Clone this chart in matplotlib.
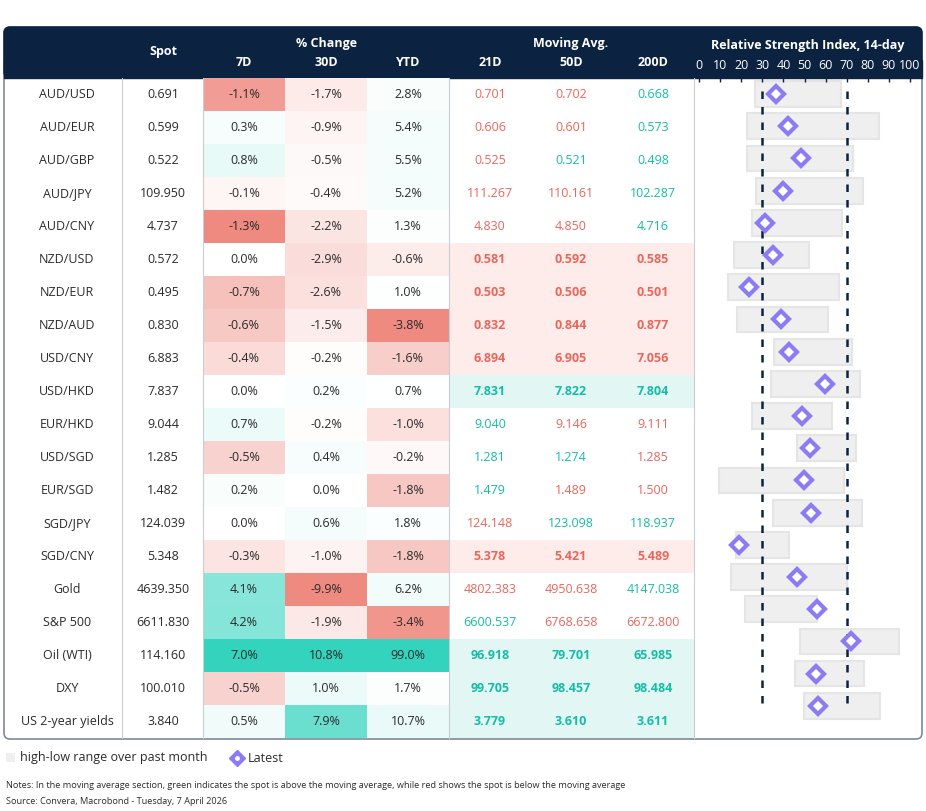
import matplotlib
matplotlib.use("Agg")
import matplotlib.pyplot as plt
from matplotlib.patches import Rectangle, FancyBboxPatch
import numpy as np

plt.rcParams['font.family'] = ['Open Sans', 'DejaVu Sans']

pairs = ["AUD/USD","AUD/EUR","AUD/GBP","AUD/JPY","AUD/CNY","NZD/USD","NZD/EUR","NZD/AUD","USD/CNY","USD/HKD",
         "EUR/HKD","USD/SGD","EUR/SGD","SGD/JPY","SGD/CNY","Gold","S&P 500","Oil (WTI)","DXY","US 2-year yields"]
spot = ["0.691","0.599","0.522","109.950","4.737","0.572","0.495","0.830","6.883","7.837",
        "9.044","1.285","1.482","124.039","5.348","4639.350","6611.830","114.160","100.010","3.840"]
chg7 = [-1.1,0.3,0.8,-0.1,-1.3,0.0,-0.7,-0.6,-0.4,0.0,0.7,-0.5,0.2,0.0,-0.3,4.1,4.2,7.0,-0.5,0.5]
chg30 = [-1.7,-0.9,-0.5,-0.4,-2.2,-2.9,-2.6,-1.5,-0.2,0.2,-0.2,0.4,0.0,0.6,-1.0,-9.9,-1.9,10.8,1.0,7.9]
chgytd = [2.8,5.4,5.5,5.2,1.3,-0.6,1.0,-3.8,-1.6,0.7,-1.0,-0.2,-1.8,1.8,-1.8,6.2,-3.4,99.0,1.7,10.7]
ma21 = ["0.701","0.606","0.525","111.267","4.830","0.581","0.503","0.832","6.894","7.831",
        "9.040","1.281","1.479","124.148","5.378","4802.383","6600.537","96.918","99.705","3.779"]
ma50 = ["0.702","0.601","0.521","110.161","4.850","0.592","0.506","0.844","6.905","7.822",
        "9.146","1.274","1.489","123.098","5.421","4950.638","6768.658","79.701","98.457","3.610"]
ma200 = ["0.668","0.573","0.498","102.287","4.716","0.585","0.501","0.877","7.056","7.804",
         "9.111","1.285","1.500","118.937","5.489","4147.038","6672.800","65.985","98.484","3.611"]
rsi_low = [26.7,22.9,22.9,27.0,25.1,16.8,13.9,18.0,35.7,34.0,25.0,46.3,9.5,35.1,17.5,15.2,21.8,47.9,45.5,49.8]
rsi_high = [67.2,85.2,72.9,77.6,67.7,52.0,66.2,61.0,72.4,76.4,62.9,74.5,68.5,77.2,42.5,70.0,55.8,95.0,78.1,85.8]
rsi_latest = [36.5,42.0,48.4,39.7,31.5,35.1,23.7,38.9,42.8,59.8,48.9,52.8,49.6,53.3,19.1,46.6,55.8,71.9,55.3,56.4]

W, H = 926, 811
fig = plt.figure(figsize=(W/100, H/100), dpi=100)
ax = fig.add_axes([0, 0, 1, 1])
ax.set_xlim(0, W); ax.set_ylim(H, 0); ax.axis('off')

navy = "#0b2240"
RED = np.array([238, 138, 128]) / 255
TEAL = np.array([52, 211, 190]) / 255
red_txt = "#e8675c"; grn_txt = "#16bca6"
txt = "#2b2b2b"
top, rh = 78, 33
n = len(pairs)
bottom = top + rh * n
fs = 9

# outer frame
ax.add_patch(FancyBboxPatch((4, 27), 918, bottom - 27 + 1, boxstyle="round,pad=0,rounding_size=6",
                            fc="white", ec="#7b8b9a", lw=1.2, zorder=0))
ax.add_patch(FancyBboxPatch((4, 27), 918, 51, boxstyle="round,pad=0,rounding_size=6",
                            fc=navy, ec=navy, lw=1, zorder=1))
ax.add_patch(Rectangle((4, 60), 918, 18, fc=navy, ec=navy, zorder=1))

cx = {"pair": 67, "spot": 163, "7": 244, "30": 326, "ytd": 408, "21": 490, "50": 571, "200": 653}
# header text
hk = dict(color="white", fontsize=fs, fontweight="bold", ha="center", va="center", zorder=3)
ax.text(cx["spot"], 52, "Spot", **hk)
ax.text(cx["30"], 44, "% Change", **hk)
for k, l in [("7", "7D"), ("30", "30D"), ("ytd", "YTD"), ("21", "21D"), ("50", "50D"), ("200", "200D")]:
    ax.text(cx[k], 62, l, **hk)
ax.text(cx["50"], 44, "Moving Avg.", **hk)
ax.text(808, 45, "Relative Strength Index, 14-day", **hk)

def blend(c, a):
    return tuple(1 - a * (1 - c))

cols = [(chg7, 203), (chg30, 285), (chgytd, 367)]
for vals, x0 in cols:
    mn = min(vals); mx = max(vals)
    for i, v in enumerate(vals):
        y0 = top + rh * i
        if v < 0:
            c = blend(RED, v / mn)
        elif v > 0:
            c = blend(TEAL, v / mx)
        else:
            c = (1, 1, 1)
        ax.add_patch(Rectangle((x0, y0), 82, rh, fc=c, ec="none", zorder=1))
        ax.text(x0 + 41, y0 + rh / 2, f"{v:.1f}%", color=txt, fontsize=fs, ha="center", va="center", zorder=3)

for i in range(n):
    y = top + rh * i + rh / 2
    ax.text(cx["pair"], y, pairs[i], color=txt, fontsize=fs, ha="center", va="center", zorder=3)
    ax.text(cx["spot"], y, spot[i], color=txt, fontsize=fs, ha="center", va="center", zorder=3)
    s = float(spot[i])
    mas = [ma21[i], ma50[i], ma200[i]]
    above = [s > float(m) for m in mas]
    allsame = all(above) or not any(above)
    if allsame:
        bg = "#e2f7f3" if above[0] else "#fdecea"
        ax.add_patch(Rectangle((449, y - rh / 2), 245, rh, fc=bg, ec="none", zorder=1))
    for k, m, a in zip(["21", "50", "200"], mas, above):
        ax.text(cx[k], y, m, color=grn_txt if a else red_txt, fontsize=fs, ha="center", va="center",
                fontweight="bold" if allsame else "normal", zorder=3)

for x in [122, 203, 449, 694]:
    ax.plot([x, x], [top, bottom], color="#c9ced4", lw=0.8, zorder=2)

# RSI axes
rx0, rx1 = 699, 910
rax = fig.add_axes([rx0 / W, 1 - bottom / H, (rx1 - rx0) / W, (bottom - top) / H])
rax.set_xlim(0, 100); rax.set_ylim(n - 0.5 + 0.5, -0.5)
rax.patch.set_alpha(0)
for sp in rax.spines.values(): sp.set_visible(False)
rax.xaxis.tick_top()
rax.set_xticks(range(0, 101, 10))
rax.tick_params(axis='x', direction='in', length=3, width=1, color=navy, labelcolor="white",
                labelsize=fs, pad=4)
rax.set_yticks([])
yy = np.arange(n)
rax.barh(yy, np.array(rsi_high) - np.array(rsi_low), left=rsi_low, height=0.8,
         color="#efefef", edgecolor="#e5e5e5", lw=1.5, zorder=1)
rax.plot([30, 30], [-0.1, n - 1], color=navy, lw=1.8, ls=(0, (3, 3.2)), zorder=2)
rax.plot([70, 70], [-0.1, n - 1], color=navy, lw=1.8, ls=(0, (3, 3.2)), zorder=2)
rax.plot(rsi_latest, yy, ls="none", marker="D", ms=8, mfc="white", mec="#8b7cf4", mew=3, zorder=3)

# legend
ax.add_patch(Rectangle((6, 753), 9, 9, fc="#efefef", ec="none"))
ax.text(20, 758, "high-low range over past month", fontsize=fs, color=txt, va="center")
ax.plot([237], [758], marker="D", ms=8, mfc="#8b7cf4", mec="#8b7cf4")
ax.plot([237], [758], marker="o", ms=2.5, mfc="white", mec="white")
ax.text(248, 758, "Latest", fontsize=fs, color=txt, va="center")

ax.text(6, 786, "Notes: In the moving average section, green indicates the spot is above the moving average, while red shows the spot is below the moving average",
        fontsize=6.6, color=txt, va="center")
ax.text(6, 801, "Source: Convera, Macrobond - Tuesday, 7 April 2026", fontsize=6.6, color=txt, va="center")

fig.savefig("out.png", dpi=100)
